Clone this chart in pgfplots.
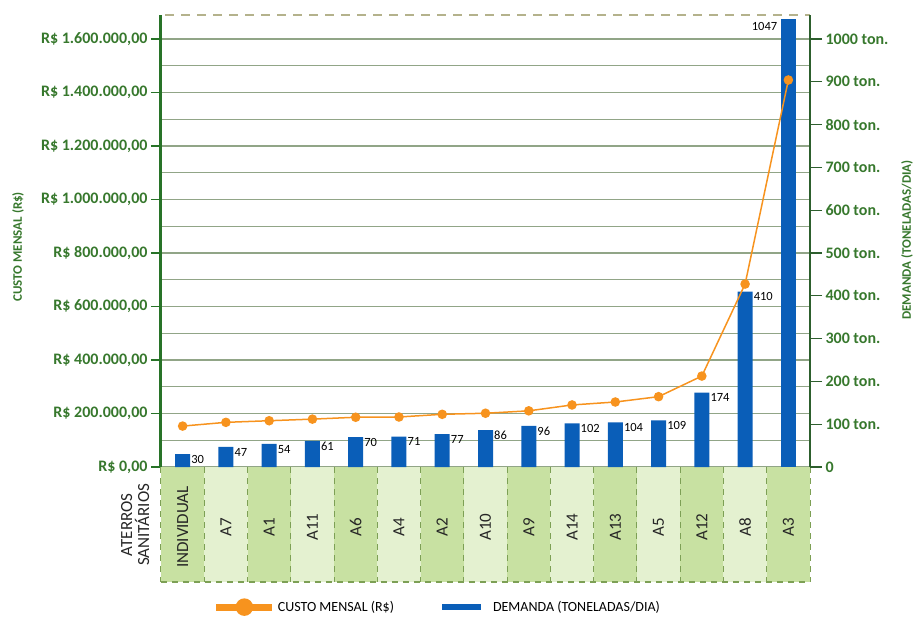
\documentclass[border=0pt]{standalone}
\usepackage{fontspec}
\setmainfont{Carlito}
\usepackage{pgfplots}
\pgfplotsset{compat=1.18}

\definecolor{barblue}{RGB}{10,94,184}
\definecolor{lineorange}{RGB}{247,147,30}
\definecolor{axgreen}{RGB}{40,115,40}
\definecolor{rgreen}{RGB}{45,95,45}
\definecolor{labgreen}{RGB}{55,120,45}
\definecolor{gridgray}{RGB}{145,165,135}
\definecolor{banddark}{RGB}{200,225,162}
\definecolor{bandlight}{RGB}{228,241,208}
\definecolor{banddash}{RGB}{125,160,85}
\definecolor{topdash}{RGB}{180,178,140}

\pgfplotsset{
  base/.style={
    scale only axis, width=649pt, height=452pt,
    at={(0pt,0pt)}, anchor=south west,
    xmin=-0.5, xmax=14.5,
    scaled y ticks=false,
  },
}
\tikzset{
  barlabel/.style={inner sep=1pt, font=\fontsize{12.5}{12.5}\selectfont, text=black,
    /pgf/number format/assume math mode=true, /pgf/number format/1000 sep={}},
}

\begin{document}
\begin{tikzpicture}
\path[use as bounding box] (-161pt,-152pt) rectangle (753pt,467pt);

% grid, bands and the cost scale
\begin{axis}[base,
  ymin=0, ymax=1690000,
  axis x line=none, axis y line*=left,
  clip=false,
  ytick={0,200000,...,1600000},
  yticklabels={{R\$ 0,00},{R\$ 200.000,00},{R\$ 400.000,00},{R\$ 600.000,00},
               {R\$ 800.000,00},{R\$ 1.000.000,00},{R\$ 1.200.000,00},
               {R\$ 1.400.000,00},{R\$ 1.600.000,00}},
  minor y tick num=1,
  ymajorgrids, yminorgrids,
  grid style={gridgray, line width=1.2pt},
  minor grid style={gridgray, line width=1.2pt},
  tick align=outside, major tick length=10pt, minor tick length=0pt,
  ytick style={axgreen, line width=1.5pt},
  y axis line style={axgreen, line width=3pt},
  yticklabel style={font=\fontsize{16}{16}\selectfont\bfseries, text=labgreen},
  ylabel={CUSTO MENSAL (R\$)},
  every axis y label/.style={at={(axis description cs:-0.2203,0.487)}, rotate=90,
    anchor=center, font=\fontsize{13}{13}\selectfont\bfseries, text=labgreen},
]
\fill[bandlight] (axis cs:-0.5,0) rectangle ([yshift=-115pt]axis cs:14.5,0);
\pgfplotsinvokeforeach{0,2,...,14}{
  \fill[banddark] (axis cs:#1-0.5,0) rectangle ([yshift=-115pt]axis cs:#1+0.5,0);
}
\pgfplotsinvokeforeach{0,...,15}{
  \draw[banddash, line width=1pt, dash pattern=on 6pt off 5pt]
    (axis cs:#1-0.5,0) -- ([yshift=-115pt]axis cs:#1-0.5,0);
}
\draw[banddash, line width=1.2pt, dash pattern=on 6pt off 5pt]
  ([yshift=-115pt]axis cs:-0.5,0) -- ([yshift=-115pt]axis cs:14.5,0);
\draw[topdash, line width=1.5pt, dash pattern=on 9pt off 7pt]
  (axis cs:-0.4,1690000) -- (axis cs:14.5,1690000);
\end{axis}

% demand bars and the tonnage scale
\begin{axis}[base,
  ymin=0, ymax=1056,
  axis y line*=right, axis x line*=bottom,
  x axis line style={draw=none},
  xtick={0,...,14},
  xticklabels={INDIVIDUAL,A7,A1,A11,A6,A4,A2,A10,A9,A14,A13,A5,A12,A8,A3},
  xtick style={draw=none},
  xticklabel style={rotate=90, anchor=center, font=\fontsize{17}{17}\selectfont, text=black!85},
  xticklabel shift=48pt,
  ytick={0,100,...,1000},
  yticklabels={0,100 ton.,200 ton.,300 ton.,400 ton.,500 ton.,600 ton.,700 ton.,800 ton.,900 ton.,1000 ton.},
  tick align=outside, major tick length=12pt,
  ytick style={rgreen, line width=1.3pt},
  y axis line style={rgreen, line width=1.3pt},
  yticklabel style={font=\fontsize{16}{16}\selectfont\bfseries, text=labgreen},
  ylabel={DEMANDA (TONELADAS/DIA)},
  every axis y label/.style={at={(axis description cs:1.1495,0.502)}, rotate=90,
    anchor=center, font=\fontsize{13}{13}\selectfont\bfseries, text=labgreen},
  clip=false,
]
\addplot[ybar, bar shift=0pt, bar width=15pt, fill=barblue, draw=none,
  nodes near coords,
  nodes near coords style={barlabel, anchor=north west, xshift=7.5pt}]
  coordinates {(0,30) (1,47) (2,54) (3,61) (4,70) (5,71) (6,77) (7,86)
               (8,96) (9,102) (10,104) (11,109) (12,174) (13,410)};
\addplot[ybar, bar shift=0pt, bar width=15pt, fill=barblue, draw=none,
  nodes near coords,
  nodes near coords style={barlabel, anchor=north east, xshift=-10pt, yshift=-2pt}]
  coordinates {(14,1047)};
\node[rotate=90, align=center, font=\fontsize{17}{17}\selectfont, text=black!85]
  at (axis description cs:-0.040,-0.128) {ATERROS\\SANITÁRIOS};
\end{axis}

% cost line and legend
\begin{axis}[base,
  ymin=0, ymax=1690000,
  axis lines=none,
  clip=false,
  legend style={at={(axis description cs:0.075,-0.31)}, anchor=west,
    draw=none, fill=none, legend columns=2,
    font=\fontsize{14}{14}\selectfont,
    /tikz/every even column/.append style={column sep=46pt}},
]
\addplot[lineorange, line width=1.5pt, mark=*, mark size=4pt,
  mark options={fill=lineorange, draw=lineorange},
  legend image code/.code={
    \draw[lineorange, line width=7pt] (0pt,0pt) -- (56pt,0pt);
    \fill[lineorange] (28pt,0pt) circle (8pt);}]
  coordinates {(0,153000) (1,167000) (2,173000) (3,179000) (4,186000)
               (5,187000) (6,197000) (7,201000) (8,210000) (9,232000)
               (10,243000) (11,263000) (12,340000) (13,684000) (14,1447000)};
\addlegendentry{CUSTO MENSAL (R\$)}
\addlegendimage{legend image code/.code={
    \path[draw=none, fill=none] (0pt,0pt) -- (49pt,0pt);
    \fill[barblue, draw=none] (0pt,-3pt) rectangle (39pt,3pt);}}
\addlegendentry{DEMANDA (TONELADAS/DIA)}
\end{axis}
\end{tikzpicture}
\end{document}
